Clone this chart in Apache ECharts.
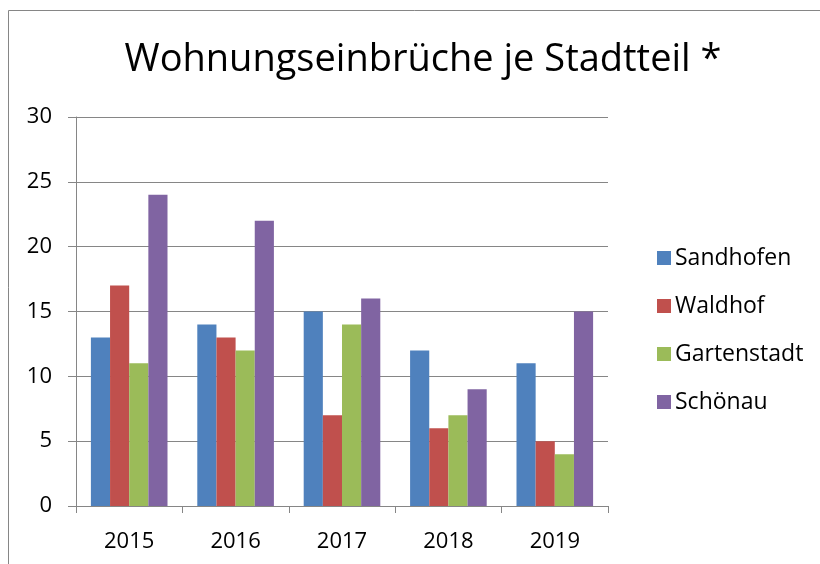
<!DOCTYPE html>
<html>
<head>
<meta charset="utf-8">
<script src="https://cdn.jsdelivr.net/npm/echarts@6/dist/echarts.min.js"></script>
<style>
  html, body { margin: 0; padding: 0; background: #fff; }
  #chart { width: 820px; height: 564px; }
</style>
</head>
<body>
<div id="chart"></div>
<script>
// data
const years = ['2015', '2016', '2017', '2018', '2019'];
const sandhofen = [13, 14, 15, 12, 11];
const waldhof = [17, 13, 7, 6, 5];
const gartenstadt = [11, 12, 14, 7, 4];
const schoenau = [24, 22, 16, 9, 15];
const districts = ['Sandhofen', 'Waldhof', 'Gartenstadt', 'Schönau'];
const colors = ['#4F81BD', '#C0504D', '#9BBB59', '#8064A2'];

const font = 'Open Sans';
const allValues = [sandhofen, waldhof, gartenstadt, schoenau];

const chart = echarts.init(document.getElementById('chart'));
chart.setOption({
    animation: false,
    color: colors,
    textStyle: { fontFamily: font },
    graphic: [{
        type: 'rect',
        shape: { x: 8.5, y: 10.5, width: 830, height: 580 },
        style: { fill: 'none', stroke: '#868686', lineWidth: 1 }
    }],
    title: {
        text: 'Wohnungseinbrüche je Stadtteil *',
        left: 418,
        textAlign: 'center',
        top: 36,
        textStyle: { fontFamily: font, fontSize: 38, fontWeight: 'normal', color: '#000' }
    },
    legend: {
        orient: 'vertical',
        left: 652,
        top: 241,
        itemWidth: 14,
        itemHeight: 14,
        itemGap: 24,
        icon: 'rect',
        textStyle: { fontFamily: font, fontSize: 23, lineHeight: 24, color: '#000', padding: [0, 0, 0, -1] },
        data: districts
    },
    grid: { left: 76, right: 212, top: 117, bottom: 58 },
    xAxis: {
        type: 'category',
        data: years,
        axisLine: { lineStyle: { color: '#868686', width: 1 } },
        axisTick: { show: true, alignWithLabel: false, length: 7, lineStyle: { color: '#868686' } },
        axisLabel: { color: '#000', fontSize: 22, margin: 25, fontFamily: font }
    },
    yAxis: {
        type: 'value',
        min: 0,
        max: 30,
        interval: 5,
        axisLine: { show: true, lineStyle: { color: '#868686', width: 1 } },
        axisTick: { show: true, length: 8, lineStyle: { color: '#868686' } },
        axisLabel: { color: '#000', fontSize: 22, margin: 24, fontFamily: font },
        splitLine: { lineStyle: { color: '#868686', width: 1 } }
    },
    series: districts.map((name, i) => ({
        name: name,
        type: 'bar',
        data: allValues[i],
        barGap: '0%',
        barCategoryGap: '28%'
    }))
});
</script>
</body>
</html>
